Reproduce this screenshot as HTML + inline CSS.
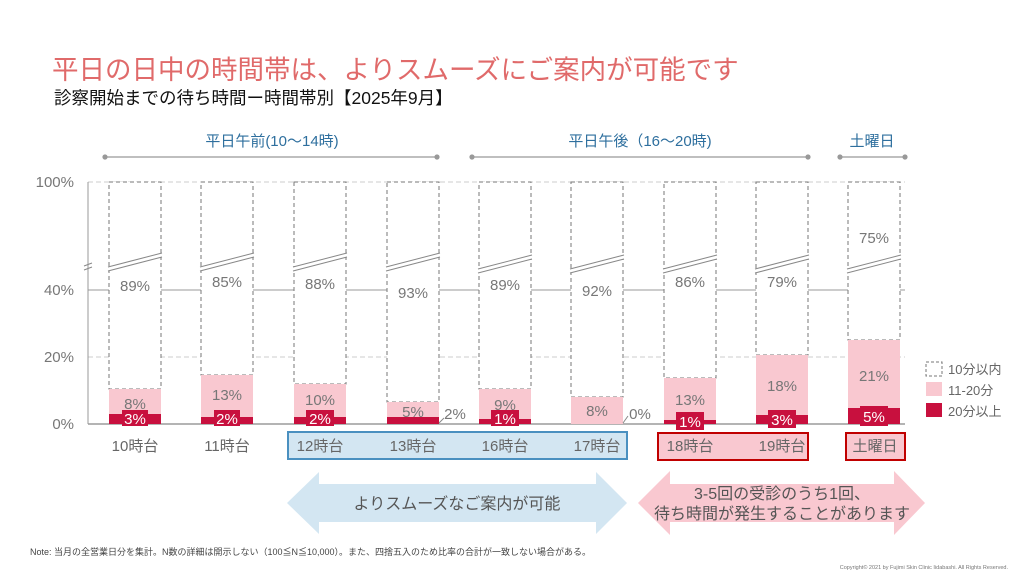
<!DOCTYPE html>
<html><head><meta charset="utf-8"><style>
body{margin:0;background:#fff;}
svg{display:block;font-family:"Liberation Sans","Noto Sans CJK JP",sans-serif;}
</style></head><body>
<svg width="1024" height="576" viewBox="0 0 1024 576" xmlns="http://www.w3.org/2000/svg">
<defs>
<g id="bk"><polygon points="-27,7 27,-7 27,-3 -27,11" fill="#fff" stroke="none"/><line x1="-27" y1="7" x2="27" y2="-7"/><line x1="-27" y1="11" x2="27" y2="-3"/></g>
</defs>
<text x="52" y="79" font-size="26.5" fill="#e06a6a">平日の日中の時間帯は、よりスムーズにご案内が可能です</text>
<text x="54" y="104" font-size="17.5" fill="#111">診察開始までの待ち時間ー時間帯別【2025年9月】</text>

<g font-size="15" fill="#2e6f9e" text-anchor="middle">
<text x="272" y="146">平日午前(10〜14時)</text>
<text x="640" y="146">平日午後（16〜20時)</text>
<text x="872" y="146">土曜日</text>
</g>
<g stroke="#999" stroke-width="1.2" fill="#999">
<line x1="105" y1="157" x2="437" y2="157"/><circle cx="105" cy="157" r="2"/><circle cx="437" cy="157" r="2"/>
<line x1="472" y1="157" x2="808" y2="157"/><circle cx="472" cy="157" r="2"/><circle cx="808" cy="157" r="2"/>
<line x1="840" y1="157" x2="905" y2="157"/><circle cx="840" cy="157" r="2"/><circle cx="905" cy="157" r="2"/>
</g>

<line x1="88" y1="182" x2="905" y2="182" stroke="#ccc" stroke-dasharray="5,3"/>
<line x1="88" y1="357" x2="905" y2="357" stroke="#ccc" stroke-dasharray="5,3"/>
<line x1="88" y1="290" x2="905" y2="290" stroke="#999"/>
<line x1="88" y1="424" x2="905" y2="424" stroke="#888" stroke-width="1.2"/>
<line x1="88" y1="182" x2="88" y2="424" stroke="#999"/>
<g font-size="15" fill="#777" text-anchor="end">
<text x="74" y="187">100%</text><text x="74" y="295">40%</text><text x="74" y="362">20%</text><text x="74" y="429">0%</text>
</g>
<g stroke="#888" stroke-width="1"><line x1="84" y1="266" x2="92" y2="263"/><line x1="84" y1="270" x2="92" y2="267"/></g>

<g font-size="15" text-anchor="middle">
<rect x="109" y="182" width="52" height="207" fill="#fff" stroke="#777" stroke-dasharray="4,3"/>
<rect x="109" y="389" width="52" height="35" fill="#f9c8d0"/>
<rect x="109" y="414" width="52" height="10" fill="#c8103e"/>
<text x="135" y="291" fill="#777">89%</text><text x="135" y="409" fill="#777">8%</text>
<rect x="122" y="410" width="26" height="16" fill="#c8103e"/><text x="135" y="424" fill="#fff">3%</text>

<rect x="201" y="182" width="52" height="193" fill="#fff" stroke="#777" stroke-dasharray="4,3"/>
<rect x="201" y="375" width="52" height="49" fill="#f9c8d0"/>
<rect x="201" y="417" width="52" height="7" fill="#c8103e"/>
<text x="227" y="287" fill="#777">85%</text><text x="227" y="400" fill="#777">13%</text>
<rect x="214" y="410" width="26" height="16" fill="#c8103e"/><text x="227" y="424" fill="#fff">2%</text>

<rect x="294" y="182" width="52" height="202" fill="#fff" stroke="#777" stroke-dasharray="4,3"/>
<rect x="294" y="384" width="52" height="40" fill="#f9c8d0"/>
<rect x="294" y="417" width="52" height="7" fill="#c8103e"/>
<text x="320" y="289" fill="#777">88%</text><text x="320" y="405" fill="#777">10%</text>
<rect x="306" y="410" width="28" height="16" fill="#c8103e"/><text x="320" y="424" fill="#fff">2%</text>

<rect x="387" y="182" width="52" height="220" fill="#fff" stroke="#777" stroke-dasharray="4,3"/>
<rect x="387" y="402" width="52" height="22" fill="#f9c8d0"/>
<rect x="387" y="417" width="52" height="7" fill="#c8103e"/>
<text x="413" y="298" fill="#777">93%</text><text x="413" y="417" fill="#777">5%</text>
<text x="455" y="419" fill="#777">2%</text><line x1="439" y1="423" x2="444" y2="418" stroke="#888"/>

<rect x="479" y="182" width="52" height="207" fill="#fff" stroke="#777" stroke-dasharray="4,3"/>
<rect x="479" y="389" width="52" height="35" fill="#f9c8d0"/>
<rect x="479" y="419" width="52" height="5" fill="#c8103e"/>
<text x="505" y="290" fill="#777">89%</text><text x="505" y="410" fill="#777">9%</text>
<rect x="491" y="410" width="28" height="16" fill="#c8103e"/><text x="505" y="424" fill="#fff">1%</text>

<rect x="571" y="182" width="52" height="215" fill="#fff" stroke="#777" stroke-dasharray="4,3"/>
<rect x="571" y="397" width="52" height="27" fill="#f9c8d0"/>
<text x="597" y="296" fill="#777">92%</text><text x="597" y="416" fill="#777">8%</text>
<text x="640" y="419" fill="#777">0%</text><line x1="623" y1="423" x2="628" y2="416" stroke="#888"/>

<rect x="664" y="182" width="52" height="196" fill="#fff" stroke="#777" stroke-dasharray="4,3"/>
<rect x="664" y="378" width="52" height="46" fill="#f9c8d0"/>
<rect x="664" y="420" width="52" height="4" fill="#c8103e"/>
<text x="690" y="287" fill="#777">86%</text><text x="690" y="405" fill="#777">13%</text>
<rect x="676" y="412" width="28" height="18" fill="#c8103e"/><text x="690" y="427" fill="#fff">1%</text>

<rect x="756" y="182" width="52" height="173" fill="#fff" stroke="#777" stroke-dasharray="4,3"/>
<rect x="756" y="355" width="52" height="69" fill="#f9c8d0"/>
<rect x="756" y="415" width="52" height="9" fill="#c8103e"/>
<text x="782" y="287" fill="#777">79%</text><text x="782" y="391" fill="#777">18%</text>
<rect x="768" y="410" width="28" height="18" fill="#c8103e"/><text x="782" y="425" fill="#fff">3%</text>

<rect x="848" y="182" width="52" height="158" fill="#fff" stroke="#777" stroke-dasharray="4,3"/>
<rect x="848" y="340" width="52" height="84" fill="#f9c8d0"/>
<rect x="848" y="408" width="52" height="16" fill="#c8103e"/>
<text x="874" y="243" fill="#777">75%</text><text x="874" y="381" fill="#777">21%</text>
<rect x="860" y="406" width="28" height="20" fill="#c8103e"/><text x="874" y="422" fill="#fff">5%</text>
</g>
<g stroke="#888" stroke-width="1">
<use href="#bk" x="135" y="260"/><use href="#bk" x="227" y="260"/><use href="#bk" x="320" y="260"/><use href="#bk" x="413" y="260"/>
<use href="#bk" x="505" y="262"/><use href="#bk" x="597" y="262"/><use href="#bk" x="690" y="262"/><use href="#bk" x="782" y="262"/><use href="#bk" x="874" y="262"/>
</g>

<rect x="288" y="432" width="339" height="27" fill="#d3e6f2" stroke="#4a90c0" stroke-width="2"/>
<rect x="658" y="433" width="150" height="27" fill="#f9c8d0" stroke="#c00000" stroke-width="2"/>
<rect x="846" y="433" width="59" height="27" fill="#f9c8d0" stroke="#c00000" stroke-width="2"/>
<g font-size="15" fill="#666" text-anchor="middle">
<text x="135" y="451">10時台</text><text x="227" y="451">11時台</text><text x="320" y="451">12時台</text><text x="413" y="451">13時台</text>
<text x="505" y="451">16時台</text><text x="597" y="451">17時台</text><text x="690" y="451">18時台</text><text x="782" y="451">19時台</text><text x="875" y="451">土曜日</text>
</g>

<rect x="926" y="362" width="16" height="14" fill="#fff" stroke="#777" stroke-dasharray="3,2"/>
<rect x="926" y="382" width="16" height="14" fill="#f9c8d0"/>
<rect x="926" y="403" width="16" height="14" fill="#c8103e"/>
<g font-size="13" fill="#666"><text x="948" y="374">10分以内</text><text x="948" y="395">11-20分</text><text x="948" y="416">20分以上</text></g>

<polygon points="287,503 319,472 319,484 596,484 596,472 627,503 596,534 596,522 319,522 319,534" fill="#d3e6f2"/>
<text x="457" y="509" font-size="16" fill="#555" text-anchor="middle">よりスムーズなご案内が可能</text>
<polygon points="638,503 670,471 670,484 894,484 894,471 925,503 894,535 894,522 670,522 670,535" fill="#f9c8d0"/>
<g font-size="16" fill="#555" text-anchor="middle"><text x="782" y="499">3-5回の受診のうち1回、</text><text x="782" y="519">待ち時間が発生することがあります</text></g>

<text x="30" y="555" font-size="9" fill="#444">Note: 当月の全営業日分を集計。N数の詳細は開示しない（100≦N≦10,000）。また、四捨五入のため比率の合計が一致しない場合がある。</text>
<text x="1008" y="569" font-size="5.5" fill="#777" text-anchor="end">Copyright© 2021 by Fujimi Skin Clinic Iidabashi. All Rights Reserved.</text>
</svg>
</body></html>
